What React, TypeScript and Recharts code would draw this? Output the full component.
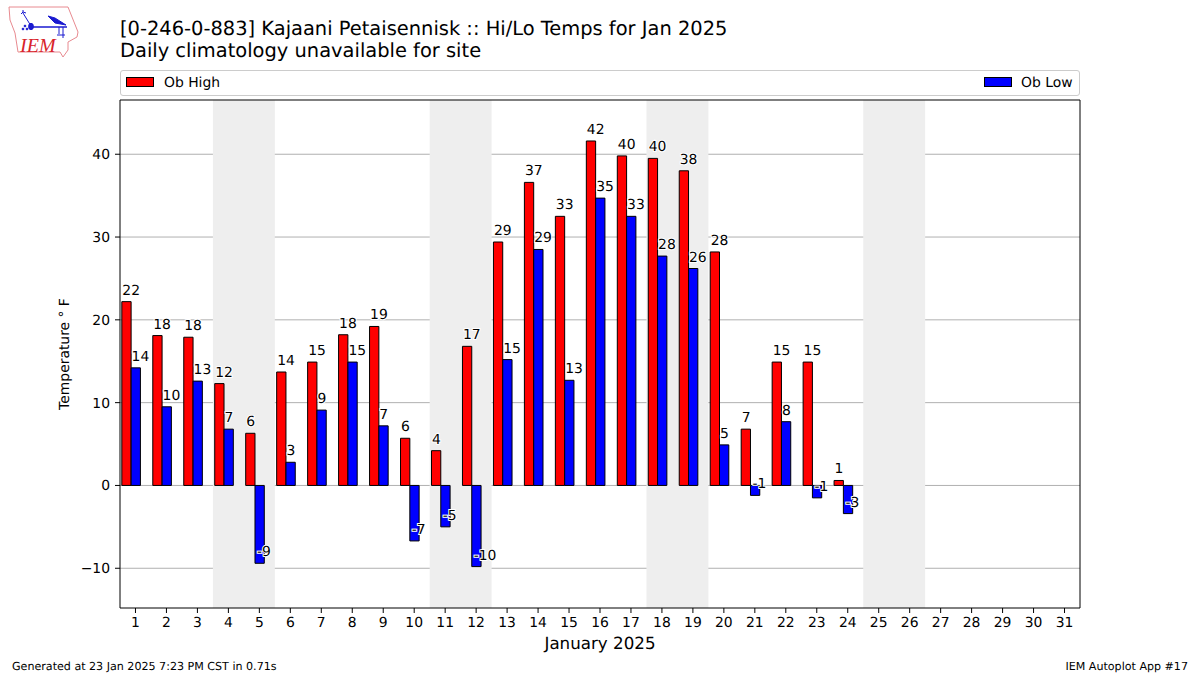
import React from 'react';
import { ComposedChart, Bar, XAxis, YAxis, CartesianGrid, ReferenceArea, ReferenceLine, LabelList, Legend } from 'recharts';

const FONT = '"DejaVu Sans", sans-serif';

const days = [1, 2, 3, 4, 5, 6, 7, 8, 9, 10, 11, 12, 13, 14, 15, 16, 17, 18, 19, 20, 21, 22, 23, 24, 25, 26, 27, 28, 29, 30, 31];
const obHigh = [22.2, 18.1, 17.9, 12.3, 6.3, 13.7, 14.9, 18.2, 19.2, 5.7, 4.2, 16.8, 29.4, 36.6, 32.5, 41.6, 39.8, 39.5, 38, 28.2, 6.8, 14.9, 14.9, 0.6];
const obLow = [14.2, 9.5, 12.6, 6.8, -9.4, 2.8, 9.1, 14.9, 7.2, -6.7, -5, -9.8, 15.2, 28.5, 12.7, 34.7, 32.5, 27.7, 26.2, 4.9, -1.2, 7.7, -1.5, -3.4];
const yTicks = [-10, 0, 10, 20, 30, 40];
const weekends = [[3.5, 5.5], [10.5, 12.5], [17.5, 19.5], [24.5, 26.5]];

// the original bars sit left of the tick, the low bar is centred on it
const data = days.map((day, i) => ({
    pos: day - 0.135,
    high: i < obHigh.length ? obHigh[i] : null,
    low: i < obLow.length ? obLow[i] : null,
}));

const ValueLabel = (props: any) => {
    const { x, y, height, value } = props;
    if (value === null || value === undefined) return null;
    const baseline = value < 0 ? Math.max(y, y + height) - 7 : Math.min(y, y + height) - 7;
    return (
        <text
            x={x + (value < 0 ? 2 : 0.5)}
            y={baseline}
            fontSize={13.9}
            fontFamily={FONT}
            fill="#000"
            stroke="#fff"
            strokeWidth={2}
            paintOrder="stroke"
        >
            {Math.round(value)}
        </text>
    );
};

const LegendBox = () => (
    <div style={{ position: 'relative', width: 958, height: 24, border: '1px solid #ccc', borderRadius: 3, fontFamily: FONT, fontSize: 13.9, background: '#fff' }}>
        <span style={{ position: 'absolute', left: 5, top: 6, width: 26, height: 8, background: '#f00', border: '1px solid #000' }} />
        <span style={{ position: 'absolute', left: 43, top: 4 }}>Ob High</span>
        <span style={{ position: 'absolute', left: 863, top: 6, width: 26, height: 8, background: '#00f', border: '1px solid #000' }} />
        <span style={{ position: 'absolute', left: 900, top: 4 }}>Ob Low</span>
    </div>
);

const Logo = () => (
    <svg width={72} height={54} viewBox="0 0 72 54" style={{ position: 'absolute', left: 8, top: 5 }}>
        <path
            d="M1 2 L60 2 L64 12 L70 27 L69 32 L60 37 L60 45 L55 52 L52 47 L10 47 L7 28 L2 15 Z"
            fill="#fff"
            stroke="#e88a90"
            strokeWidth={1}
        />
        <g stroke="#1a1ad0" fill="#1a1ad0">
            <path d="M24 22 L59 22" strokeWidth={1.5} />
            <ellipse cx={23} cy={21.5} rx={2.4} ry={3.2} />
            <path d="M23 21 L15 8 M13 9 L15 7 L15 5 M15 7 L18 8" strokeWidth={1} fill="none" />
            <path d="M40 11 L47 13 L58 20 L47 18 Z" />
            <path d="M51 22 L51 29 M55 22 L55 33 M49 30 L57 30" strokeWidth={1} fill="none" />
            <circle cx={17} cy={21} r={0.9} />
            <circle cx={15} cy={24} r={0.9} />
            <circle cx={19} cy={24} r={0.9} />
        </g>
        <text x={12} y={47} fontFamily='"Liberation Serif", serif' fontStyle="italic" fontSize={20} fill="#d8232a">IEM</text>
    </svg>
);

const App: React.FC = () => (
    <div style={{ position: 'absolute', left: 0, top: 0, width: 1200, height: 675, background: '#fff', overflow: 'hidden', fontFamily: FONT, color: '#000', textRendering: 'geometricPrecision' }}>
        <Logo />
        <div style={{ position: 'absolute', left: 120, top: 18, fontSize: 19.45, lineHeight: '22.4px', whiteSpace: 'pre' }}>
            [0-246-0-883] Kajaani Petaisennisk :: Hi/Lo Temps for Jan 2025
            {'\n'}Daily climatology unavailable for site
        </div>
        <ComposedChart
            width={1200}
            height={675}
            data={data}
            margin={{ top: 74, right: 120, bottom: 0, left: 0 }}
            barGap={0}
            barSize={9.3}
        >
            <CartesianGrid horizontal vertical={false} stroke="#b0b0b0" strokeWidth={1} syncWithTicks />
            {weekends.map(([x1, x2]) => (
                <ReferenceArea key={x1} x1={x1} x2={x2} fill="#eeeeee" fillOpacity={1} stroke="none" />
            ))}
            <XAxis
                dataKey="pos"
                type="number"
                domain={[0.5, 31.5]}
                allowDataOverflow
                ticks={days}
                interval={0}
                tick={{ fontSize: 13.9, fontFamily: FONT, fill: '#000' }}
                tickLine={{ stroke: '#000' }}
                axisLine={{ stroke: '#000' }}
                tickSize={5}
                tickMargin={4}
                height={67}
                label={{ value: 'January 2025', position: 'insideTop', offset: 29, fontSize: 16.7, fontFamily: FONT, fill: '#000' }}
            />
            <YAxis
                type="number"
                domain={[-14.8, 46.55]}
                allowDataOverflow
                ticks={yTicks}
                interval={0}
                width={120}
                tick={{ fontSize: 13.9, fontFamily: FONT, fill: '#000' }}
                tickFormatter={(v: number) => (v < 0 ? '\u2212' + Math.abs(v) : String(v))}
                tickLine={{ stroke: '#000' }}
                axisLine={{ stroke: '#000' }}
                tickSize={5}
                tickMargin={5}
                label={{ value: 'Temperature \u00B0 F', angle: -90, position: 'center', dx: 4, fontSize: 13.9, fontFamily: FONT, fill: '#000' }}
            />
            <ReferenceLine x={31.5} stroke="#000" />
            <ReferenceLine y={46.55} stroke="#000" />
            <Legend content={LegendBox} verticalAlign="top" wrapperStyle={{ position: 'absolute', left: 120, top: 70, width: 960, height: 26, margin: 0 }} />
            <Bar dataKey="high" name="Ob High" fill="#ff0000" stroke="#000" strokeWidth={1} isAnimationActive={false}>
                <LabelList dataKey="high" content={ValueLabel} />
            </Bar>
            <Bar dataKey="low" name="Ob Low" fill="#0000ff" stroke="#000" strokeWidth={1} isAnimationActive={false}>
                <LabelList dataKey="low" content={ValueLabel} />
            </Bar>
        </ComposedChart>
        <div style={{ position: 'absolute', left: 12, top: 660, fontSize: 11.1 }}>Generated at 23 Jan 2025 7:23 PM CST in 0.71s</div>
        <div style={{ position: 'absolute', right: 12, top: 660, fontSize: 11.1 }}>IEM Autoplot App #17</div>
    </div>
);

export default App;
